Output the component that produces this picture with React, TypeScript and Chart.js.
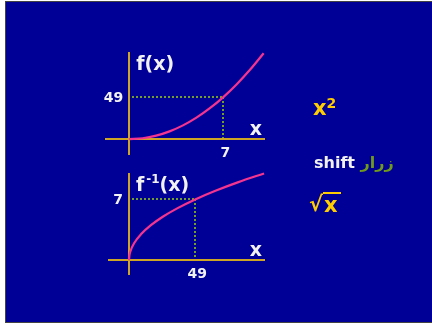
import React, { useEffect, useRef } from "react";
import { Chart, registerables } from "chart.js";

Chart.register(...registerables);

// f(x) = x^2
const squareX = [0, 1, 2, 3, 4, 5, 6, 7, 8, 9, 10];
const squareY = [0, 1, 4, 9, 16, 25, 36, 49, 64, 81, 100];
// f^-1(x) = sqrt(x)
const rootX = [0, 0.25, 1, 4, 9, 16, 25, 36, 49, 64, 81, 100];
const rootY = [0, 0.5, 1, 2, 3, 4, 5, 6, 7, 8, 9, 10];
// marked points
const topMarkX = 7;
const topMarkY = 49;
const bottomMarkX = 49;
const bottomMarkY = 7;
const topTicks = ["7", "49"];
const bottomTicks = ["49", "7"];

const W = 432;
const H = 325;
const AXIS = "#cfa526";
const CURVE = "#f5348f";
const GUIDE = "#74a02a";
const TEXT = "#f2f2f2";
const FONT = "'DejaVu Sans', Verdana, sans-serif";

type Cfg = {
  xs: number[];
  ys: number[];
  markX: number;
  markY: number;
  ticks: string[];
  area: { left: number; right: number; top: number; bottom: number };
  xMin: number;
  xMax: number;
  yMin: number;
  yMax: number;
  inverse: boolean;
};

function makePlugin(cfg: Cfg) {
  return {
    id: "slideAxes",
    beforeDatasetsDraw(chart: any) {
      const { ctx, chartArea, scales } = chart;
      const x0 = Math.round(scales.x.getPixelForValue(0));
      const y0 = Math.round(scales.y.getPixelForValue(0));
      const mx = Math.round(scales.x.getPixelForValue(cfg.markX));
      const my = Math.round(scales.y.getPixelForValue(cfg.markY));
      ctx.save();
      ctx.strokeStyle = AXIS;
      ctx.lineWidth = 2;
      ctx.beginPath();
      ctx.moveTo(chartArea.left, y0);
      ctx.lineTo(chartArea.right, y0);
      ctx.moveTo(x0, chartArea.top);
      ctx.lineTo(x0, chartArea.bottom);
      ctx.stroke();
      ctx.strokeStyle = GUIDE;
      ctx.lineCap = "butt";
      ctx.setLineDash([2, 2]);
      ctx.beginPath();
      ctx.moveTo(x0 + 3, my);
      ctx.lineTo(mx, my);
      ctx.stroke();
      ctx.beginPath();
      ctx.moveTo(mx, my);
      ctx.lineTo(mx, y0 - 1);
      ctx.stroke();
      ctx.restore();
    },
    afterDraw(chart: any) {
      const { ctx, chartArea, scales } = chart;
      const x0 = scales.x.getPixelForValue(0);
      const y0 = scales.y.getPixelForValue(0);
      const mx = scales.x.getPixelForValue(cfg.markX);
      const my = scales.y.getPixelForValue(cfg.markY);
      ctx.save();
      ctx.fillStyle = TEXT;
      ctx.textBaseline = "middle";
      ctx.font = `bold 14px ${FONT}`;
      // x tick
      ctx.textAlign = "center";
      ctx.fillText(cfg.ticks[0], mx + 2, y0 + 14);
      // y tick
      ctx.textAlign = "right";
      ctx.fillText(cfg.ticks[1], x0 - 6, my + 1);
      // axis name x
      ctx.font = `bold 19px ${FONT}`;
      ctx.textAlign = "center";
      ctx.fillText("x", chartArea.right - 9, y0 - 9);
      // function name
      ctx.textAlign = "left";
      ctx.textBaseline = "alphabetic";
      const ty = chartArea.top + 18;
      const tx = x0 + 7;
      if (!cfg.inverse) {
        ctx.fillText("f(x)", tx, ty);
      } else {
        ctx.fillText("f", tx, ty);
        const fw = ctx.measureText("f").width;
        ctx.font = `bold 12px ${FONT}`;
        ctx.fillText("-1", tx + fw + 2, ty - 8);
        const sw = ctx.measureText("-1").width;
        ctx.font = `bold 19px ${FONT}`;
        ctx.fillText("(x)", tx + fw + sw + 2, ty);
      }
      ctx.restore();
    },
  };
}

function SlideChart({ cfg }: { cfg: Cfg }) {
  const ref = useRef<HTMLCanvasElement>(null);
  useEffect(() => {
    if (!ref.current) return;
    const data = cfg.xs.map((x, i) => ({ x, y: cfg.ys[i] }));
    const chart = new Chart(ref.current, {
      type: "scatter",
      data: {
        datasets: [
          {
            data,
            showLine: true,
            borderColor: CURVE,
            borderWidth: 2.2,
            pointRadius: 0,
            cubicInterpolationMode: "monotone",
            clip: false as any,
          },
        ],
      },
      options: {
        responsive: false,
        animation: false,
        devicePixelRatio: 1,
        layout: {
          padding: {
            left: cfg.area.left,
            right: W - cfg.area.right,
            top: cfg.area.top,
            bottom: H - cfg.area.bottom,
          },
        },
        plugins: { legend: { display: false }, tooltip: { enabled: false } },
        scales: {
          x: { type: "linear", min: cfg.xMin, max: cfg.xMax, display: false },
          y: { type: "linear", min: cfg.yMin, max: cfg.yMax, display: false },
        },
      },
      plugins: [makePlugin(cfg)],
    } as any);
    return () => chart.destroy();
  }, [cfg]);
  return (
    <canvas
      ref={ref}
      width={W}
      height={H}
      style={{ position: "absolute", left: 0, top: 0, width: W, height: H }}
    />
  );
}

const topCfg: Cfg = {
  xs: squareX,
  ys: squareY,
  markX: topMarkX,
  markY: topMarkY,
  ticks: topTicks,
  area: { left: 105, right: 265, top: 52, bottom: 155 },
  xMin: -1.8,
  xMax: 10.1,
  yMin: -18.5,
  yMax: 101.5,
  inverse: false,
};

const bottomCfg: Cfg = {
  xs: rootX,
  ys: rootY,
  markX: bottomMarkX,
  markY: bottomMarkY,
  ticks: bottomTicks,
  area: { left: 108, right: 265, top: 173, bottom: 275 },
  xMin: -15.56,
  xMax: 100.7,
  yMin: -1.72,
  yMax: 10.05,
  inverse: true,
};

export default function App() {
  return (
    <div
      style={{
        position: "fixed",
        left: 0,
        top: 0,
        width: W,
        height: H,
        background: "#ffffff",
        overflow: "hidden",
      }}
    >
      <div
        style={{
          position: "absolute",
          left: 5,
          top: 1,
          width: W - 5,
          height: 322,
          background: "#000096",
          borderLeft: "1px solid #444",
          borderTop: "1px solid #444",
          borderBottom: "1px solid #444",
          boxSizing: "border-box",
        }}
      />
      <SlideChart cfg={topCfg} />
      <SlideChart cfg={bottomCfg} />
      <div
        style={{
          position: "absolute",
          left: 313,
          top: 96,
          color: "#ffcc00",
          font: `bold 21px ${FONT}`,
          lineHeight: "24px",
          whiteSpace: "nowrap",
        }}
      >
        x<sup style={{ fontSize: 14, verticalAlign: "top", position: "relative", top: -5 }}>2</sup>
      </div>
      <div
        style={{
          position: "absolute",
          left: 314,
          top: 153,
          font: `bold 16px ${FONT}`,
          lineHeight: "20px",
          whiteSpace: "nowrap",
        }}
      >
        <span style={{ color: "#f2f2f2" }}>shift</span>{" "}
        <span style={{ color: "#6f9a1a" }}>زرار</span>
      </div>
      <div
        style={{
          position: "absolute",
          left: 309,
          top: 192,
          color: "#ffcc00",
          font: `bold 21px ${FONT}`,
          lineHeight: "24px",
          whiteSpace: "nowrap",
          display: "flex",
        }}
      >
        <span>√</span>
        <span style={{ borderTop: "2px solid #ffcc00", paddingLeft: 1, paddingRight: 3, lineHeight: "22px" }}>x</span>
      </div>
    </div>
  );
}
